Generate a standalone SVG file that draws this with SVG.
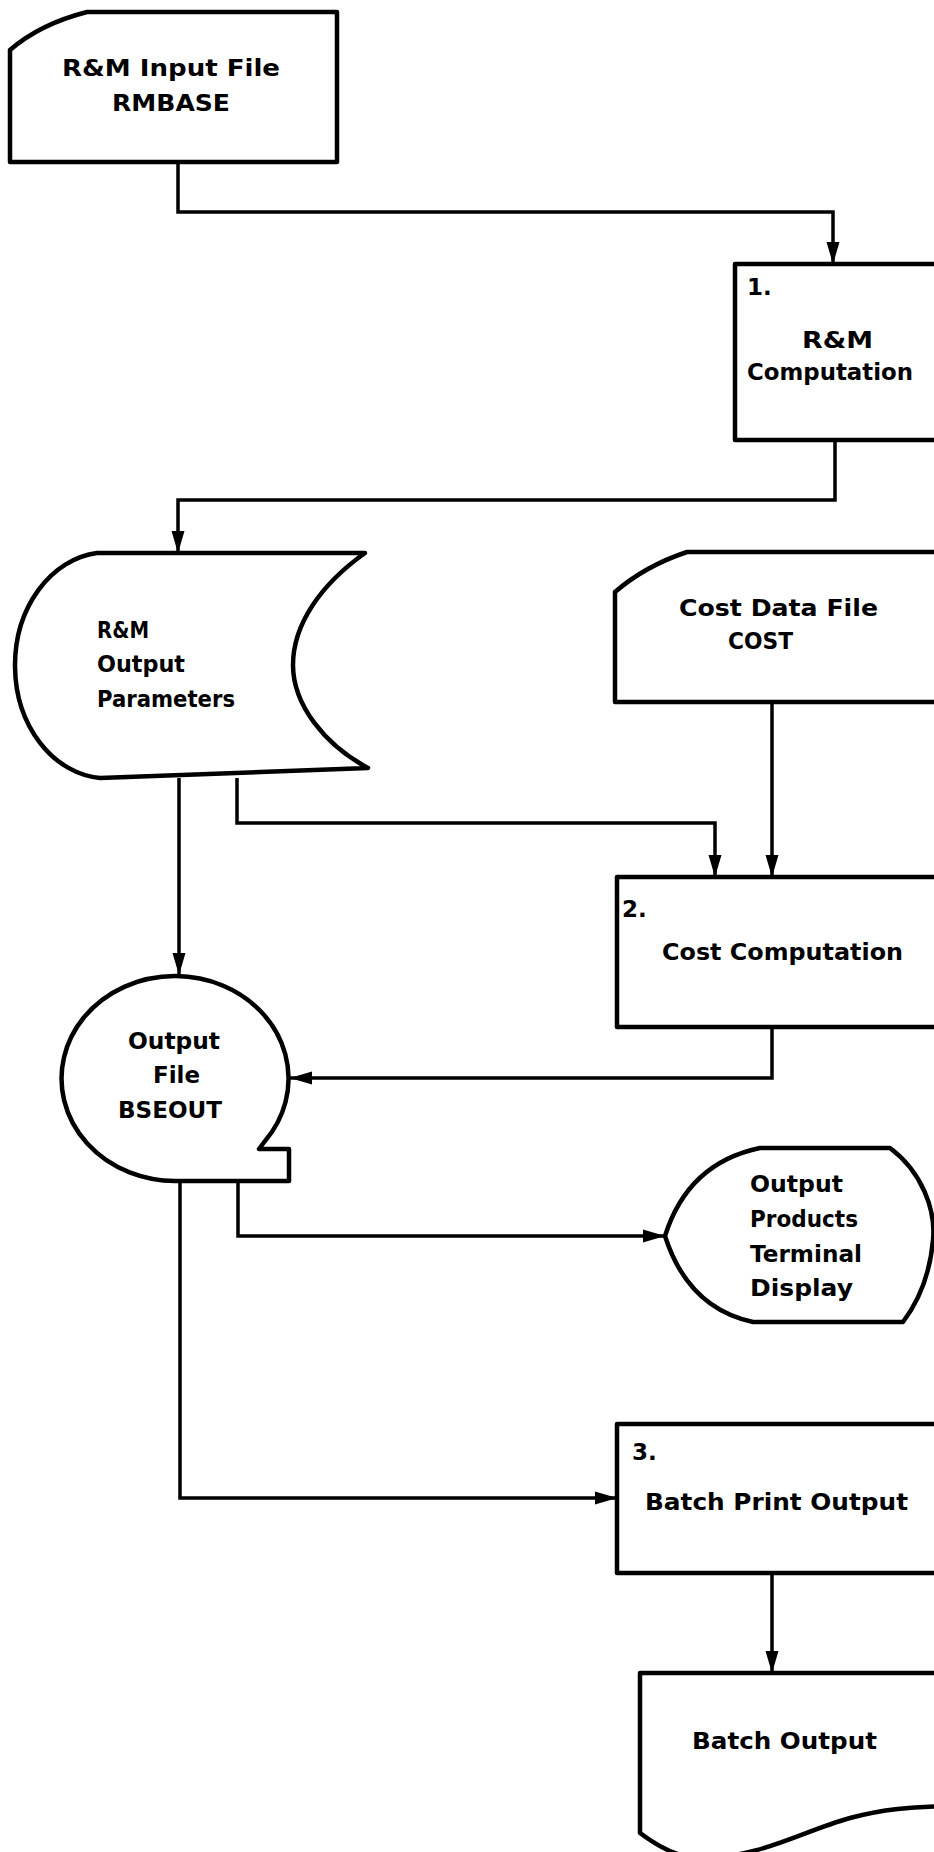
<svg xmlns="http://www.w3.org/2000/svg" width="934" height="1852" viewBox="0 0 934 1852">
<style>
  .shape { fill: #fff; stroke: #000; stroke-width: 4.5; stroke-linejoin: round; }
  .conn { fill: none; stroke: #000; stroke-width: 3.5; marker-end: url(#ah); }
  text { font-family: "DejaVu Sans", "Liberation Sans", Arial, sans-serif; font-weight: bold; font-size: 23px; fill: #000; }
</style>
<defs>
  <marker id="ah" markerUnits="userSpaceOnUse" markerWidth="24" markerHeight="16" refX="22" refY="8" orient="auto" viewBox="0 0 24 16">
    <path d="M0,1.5 L22,8 L0,14.5 Z" fill="#000"/>
  </marker>
</defs>
<rect width="934" height="1852" fill="#fff"/>

<g id="connectors">
  <polyline class="conn" points="178,162 178,212 833,212 833,264"/>
  <polyline class="conn" points="835,440 835,500 178,500 178,553"/>
  <polyline class="conn" points="237,778 237,823 715,823 715,877"/>
  <polyline class="conn" points="772,702 772,877"/>
  <polyline class="conn" points="179,778 179,975"/>
  <polyline class="conn" points="772,1027 772,1078 290,1078"/>
  <polyline class="conn" points="238,1181 238,1236 665,1236"/>
  <polyline class="conn" points="180,1181 180,1498 617,1498"/>
  <polyline class="conn" points="772,1573 772,1673"/>
</g>

<g id="rmbase">
  <path class="shape" d="M87,12 L337,12 L337,162 L10,162 L10,50 Q40,24 87,12 Z"/>
  <text x="62" y="76" textLength="218" lengthAdjust="spacingAndGlyphs">R&amp;M Input File</text>
  <text x="112" y="111" textLength="118" lengthAdjust="spacingAndGlyphs">RMBASE</text>
</g>

<g id="rm-computation">
  <rect class="shape" x="735" y="264" width="230" height="176"/>
  <text x="747" y="295">1.</text>
  <text x="802" y="348" textLength="71" lengthAdjust="spacingAndGlyphs">R&amp;M</text>
  <text x="747" y="380" textLength="166" lengthAdjust="spacingAndGlyphs">Computation</text>
</g>

<g id="rm-output-parameters">
  <path class="shape" d="M97,553 L365,553 C320,585 293,625 293,665 C293,705 325,745 368,768 L100,778 A92,113 0 0 1 97,553 Z"/>
  <text x="97" y="638" textLength="52" lengthAdjust="spacingAndGlyphs">R&amp;M</text>
  <text x="97" y="672" textLength="88" lengthAdjust="spacingAndGlyphs">Output</text>
  <text x="97" y="707" textLength="138" lengthAdjust="spacingAndGlyphs">Parameters</text>
</g>

<g id="cost-data-file">
  <path class="shape" d="M687,552 L960,552 L960,702 L615,702 L615,592 Q645,566 687,552 Z"/>
  <text x="679" y="616" textLength="199" lengthAdjust="spacingAndGlyphs">Cost Data File</text>
  <text x="728" y="649" textLength="65" lengthAdjust="spacingAndGlyphs">COST</text>
</g>

<g id="cost-computation">
  <rect class="shape" x="617" y="877" width="350" height="150"/>
  <text x="622" y="917">2.</text>
  <text x="662" y="960" textLength="241" lengthAdjust="spacingAndGlyphs">Cost Computation</text>
</g>

<g id="output-file-bseout">
  <path class="shape" d="M176.5,1181 A113.5,102.5 0 1 1 265,1141 L259,1149 L289,1149 L289,1181 Z"/>
  <text x="128" y="1049" textLength="92" lengthAdjust="spacingAndGlyphs">Output</text>
  <text x="153" y="1083" textLength="47" lengthAdjust="spacingAndGlyphs">File</text>
  <text x="118" y="1118" textLength="104" lengthAdjust="spacingAndGlyphs">BSEOUT</text>
</g>

<g id="terminal-display">
  <path class="shape" d="M665,1236 Q688,1163 760,1148 L890,1148 C922,1172 936,1210 933,1240 C930,1275 918,1302 903,1322 L753,1322 Q688,1308 665,1236 Z"/>
  <text x="750" y="1192" textLength="93" lengthAdjust="spacingAndGlyphs">Output</text>
  <text x="750" y="1227" textLength="108" lengthAdjust="spacingAndGlyphs">Products</text>
  <text x="750" y="1262" textLength="112" lengthAdjust="spacingAndGlyphs">Terminal</text>
  <text x="750" y="1296" textLength="103" lengthAdjust="spacingAndGlyphs">Display</text>
</g>

<g id="batch-print-output">
  <rect class="shape" x="617" y="1424" width="350" height="149"/>
  <text x="632" y="1460">3.</text>
  <text x="645" y="1510" textLength="263" lengthAdjust="spacingAndGlyphs">Batch Print Output</text>
</g>

<g id="batch-output">
  <path class="shape" d="M640,1673 L960,1673 L960,1806 C910,1806 880,1810 850,1818 C800,1832 760,1858 700,1858 C680,1858 660,1848 640,1833 Z"/>
  <text x="692" y="1749" textLength="185" lengthAdjust="spacingAndGlyphs">Batch Output</text>
</g>
</svg>
